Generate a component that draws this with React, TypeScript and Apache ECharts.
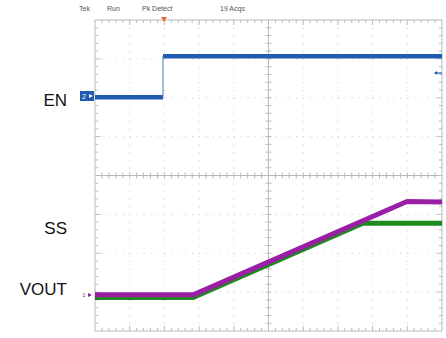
import React, { useEffect, useRef } from "react";
import * as echarts from "echarts";

// Time in divisions (0..10), level in divisions (0 = bottom, 8 = top)
const enTime = [0, 1.96, 1.96, 10];
const enLevel = [6.01, 6.01, 7.07, 7.07];
const ssTime = [0, 2.83, 7.72, 10];
const ssLevel = [0.86, 0.86, 2.77, 2.77];
const voutTime = [0, 2.83, 8.99, 10];
const voutLevel = [0.93, 0.93, 3.33, 3.32];

const headerTexts = ["Tek", "Run", "Pk Detect", "19 Acqs"];
const traceLabels = ["EN", "SS", "VOUT"];

const zip = (a: number[], b: number[]) => a.map((v, i) => [v, b[i]]);

export default function App() {
  const ref = useRef<HTMLDivElement>(null);
  useEffect(() => {
    document.body.style.margin = "0";
    const chart = echarts.init(ref.current!, undefined, { renderer: "svg" });
    const grey = "#b9b9b9";
    const dot = "#c9c9c9";
    const en = zip(enTime, enLevel);
    // thick flat parts with a gap at the edge; the fast edge itself is thin
    const enFlat: any[] = [en[0], en[1], "-", en[2], en[3]];
    const enEdge = [en[1], en[2]];
    const hdr = (text: string, x: number) => ({
      type: "text", x, y: 8,
      style: { text, fontSize: 7, fill: "#555", fontFamily: "Liberation Sans", verticalAlign: "middle" },
    });
    const lbl = (text: string, y: number) => ({
      type: "text", x: 67, y,
      style: { text, fontSize: 17, fill: "#111", fontFamily: "Liberation Sans", align: "right", verticalAlign: "middle" },
    });
    const option: any = {
      animation: false,
      backgroundColor: "#ffffff",
      grid: { left: 95, right: 4, top: 20, bottom: 7 },
      xAxis: { type: "value", min: 0, max: 10, show: false },
      yAxis: { type: "value", min: 0, max: 8, show: false },
      graphic: [
        hdr(headerTexts[0], 79),
        hdr(headerTexts[1], 107),
        hdr(headerTexts[2], 142),
        hdr(headerTexts[3], 220),
        { type: "polygon", shape: { points: [[161, 17], [167, 17], [164, 22]] }, style: { fill: "#e8702a" }, z: 20 },
        lbl(traceLabels[0], 100),
        lbl(traceLabels[1], 228),
        lbl(traceLabels[2], 289),
        { type: "rect", shape: { x: 80, y: 91, width: 14, height: 10 }, style: { fill: "#1f5bb0" }, z: 20 },
        { type: "text", x: 84, y: 96, style: { text: "2", fontSize: 7, fill: "#ffffff", fontFamily: "Liberation Sans", align: "center", verticalAlign: "middle" }, z: 21 },
        { type: "polygon", shape: { points: [[89, 94], [93, 96], [89, 98]] }, style: { fill: "#ffffff" }, z: 21 },
        { type: "text", x: 84, y: 295, style: { text: "1", fontSize: 6, fill: "#555", fontFamily: "Liberation Sans", align: "center", verticalAlign: "middle" }, z: 21 },
        { type: "polygon", shape: { points: [[88, 293], [92, 295], [88, 297]] }, style: { fill: "#9a1fa5" }, z: 21 },
        { type: "line", shape: { x1: 436, y1: 73, x2: 442, y2: 73 }, style: { stroke: "#1f5bb0", lineWidth: 1.2 }, z: 21 },
        { type: "polygon", shape: { points: [[434, 73], [437, 71], [437, 75]] }, style: { fill: "#1f5bb0" }, z: 21 },
      ],
      series: [
        {
          type: "custom",
          silent: true,
          z: 0,
          data: [[0, 0]],
          renderItem: (params: any, api: any) => {
            const p0 = api.coord([0, 0]);
            const p1 = api.coord([10, 8]);
            const x0 = p0[0], y0 = p0[1], x1 = p1[0], y1 = p1[1];
            const dx = (x1 - x0) / 10;
            const dy = (y0 - y1) / 8;
            const xc = x0 + 5 * dx;
            const yc = y1 + 4 * dy;
            const ch: any[] = [];
            const ln = (a: number, b: number, c: number, d: number, stroke: string, dash?: number[]) =>
              ch.push({ type: "line", shape: { x1: a, y1: b, x2: c, y2: d }, style: { stroke, lineWidth: 1, lineDash: dash || null } });
            for (let i = 1; i < 10; i++) {
              if (i === 5) continue;
              const x = x0 + i * dx;
              ln(x, y1, x, y0, dot, [1, dy / 5 - 1]);
            }
            for (let j = 1; j < 8; j++) {
              if (j === 4) continue;
              const y = y1 + j * dy;
              ln(x0, y, x1, y, dot, [1, dx / 5 - 1]);
            }
            ln(xc, y1, xc, y0, grey);
            ln(x0, yc, x1, yc, grey);
            ch.push({ type: "rect", shape: { x: x0, y: y1, width: x1 - x0, height: y0 - y1 }, style: { fill: null, stroke: grey, lineWidth: 1 } });
            for (let k = 1; k < 50; k++) {
              const x = x0 + (k * dx) / 5;
              const L = k % 5 === 0 ? 5 : 3;
              ln(x, y1, x, y1 + L, grey);
              ln(x, y0, x, y0 - L, grey);
              ln(x, yc - 3, x, yc + 3, grey);
            }
            for (let k = 1; k < 40; k++) {
              const y = y1 + (k * dy) / 5;
              const L = k % 5 === 0 ? 5 : 3;
              ln(x0, y, x0 + L, y, grey);
              ln(x1, y, x1 - L, y, grey);
              ln(xc - 3, y, xc + 3, y, grey);
            }
            return { type: "group", children: ch };
          },
        },
        {
          name: "EN",
          type: "line",
          z: 3,
          showSymbol: false,
          connectNulls: false,
          data: enFlat,
          lineStyle: { color: "#1f5bb0", width: 4.5, cap: "butt" },
          itemStyle: { color: "#1f5bb0" },
        },
        {
          name: "EN edge",
          type: "line",
          z: 3,
          showSymbol: false,
          data: enEdge,
          lineStyle: { color: "#4a7cc0", width: 1 },
          itemStyle: { color: "#4a7cc0" },
        },
        {
          name: "SS",
          type: "line",
          z: 3,
          showSymbol: false,
          data: zip(ssTime, ssLevel),
          lineStyle: { color: "#1e8a1e", width: 5 },
          itemStyle: { color: "#1e8a1e" },
        },
        {
          name: "VOUT",
          type: "line",
          z: 4,
          showSymbol: false,
          data: zip(voutTime, voutLevel),
          lineStyle: { color: "#9a1fa5", width: 5 },
          itemStyle: { color: "#9a1fa5" },
        },
      ],
    };
    chart.setOption(option);
    return () => chart.dispose();
  }, []);
  return <div ref={ref} style={{ width: 446, height: 338 }} />;
}
